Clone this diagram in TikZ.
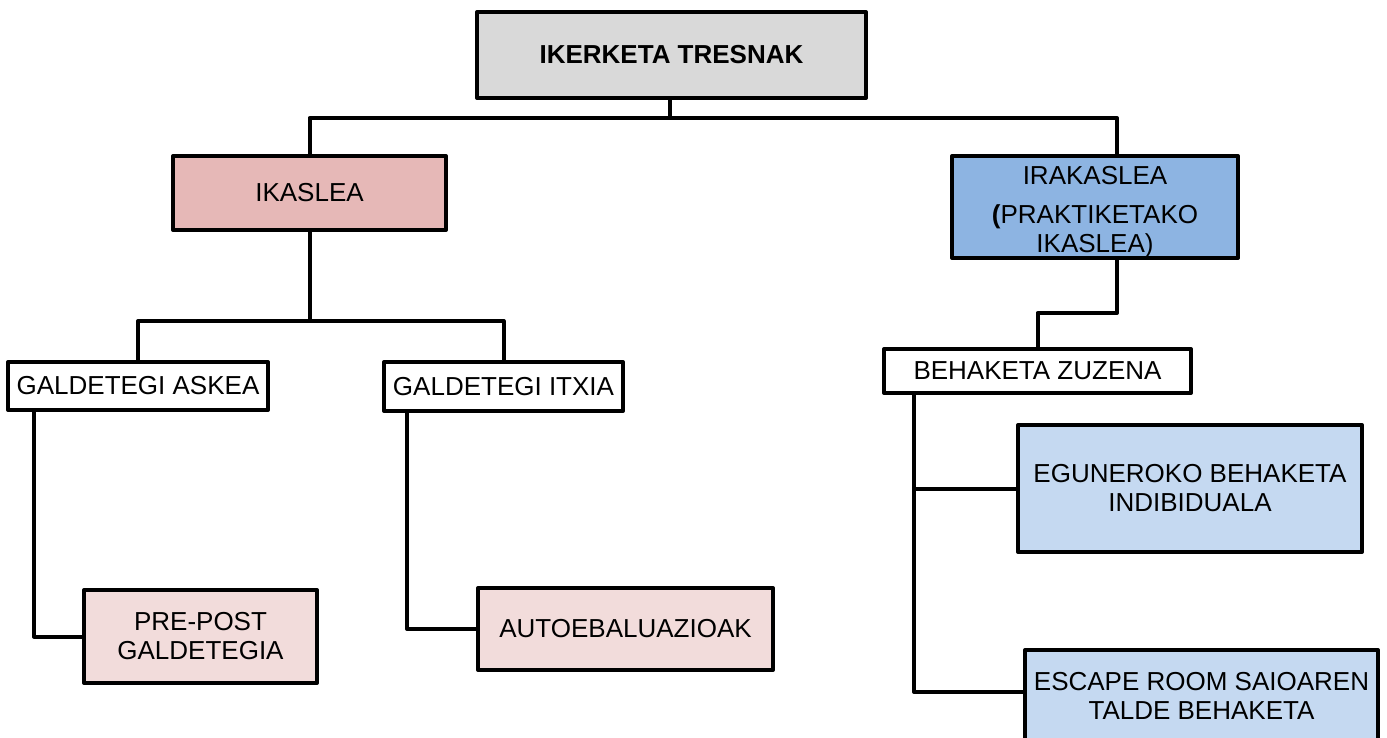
\documentclass[tikz,border=0pt]{standalone}
\usepackage{fontspec}
\setmainfont{Liberation Sans}
\definecolor{cgray}{HTML}{D9D9D9}
\definecolor{cpink}{HTML}{E6B8B7}
\definecolor{clpink}{HTML}{F2DCDB}
\definecolor{cblue}{HTML}{8DB4E2}
\definecolor{clblue}{HTML}{C5D9F1}
\begin{document}
\begin{tikzpicture}[x=1pt,y=-1pt,
  box/.style={draw=black,line width=4pt,line join=round,inner sep=0pt,align=center,
    font=\fontsize{26}{29}\selectfont},
  conn/.style={draw=black,line width=4pt,line join=round}]
\useasboundingbox (0,0) rectangle (1387,738);
\node[box,fill=cgray,minimum width=389pt,minimum height=86pt,font=\fontsize{26}{29}\selectfont\bfseries] (top) at (671.5,55) {IKERKETA TRESNAK};
\node[box,fill=cpink,minimum width=273pt,minimum height=74pt] (ik) at (309.5,193) {IKASLEA};
\node[box,fill=cblue,minimum width=286pt,minimum height=102pt] (ir) at (1095,207) {\rule{0pt}{28pt}IRAKASLEA\\[10pt]\textbf{(}PRAKTIKETAKO\\IKASLEA)};
\node[box,fill=white,minimum width=260pt,minimum height=48pt] (as) at (138,386) {GALDETEGI ASKEA};
\node[box,fill=white,minimum width=239pt,minimum height=49pt] (it) at (503.5,386.5) {GALDETEGI ITXIA};
\node[box,fill=white,minimum width=307pt,minimum height=44pt] (bz) at (1037.5,371) {BEHAKETA ZUZENA};
\node[box,fill=clblue,minimum width=344pt,minimum height=127pt] (eg) at (1190,488.5) {EGUNEROKO BEHAKETA\\INDIBIDUALA};
\node[box,fill=clblue,minimum width=353pt,minimum height=92pt] (es) at (1201.5,696) {ESCAPE ROOM SAIOAREN\\TALDE BEHAKETA};
\node[box,fill=clpink,minimum width=233pt,minimum height=93pt] (pp) at (200.5,636.5) {PRE-POST\\GALDETEGIA};
\node[box,fill=clpink,minimum width=295pt,minimum height=82pt] (au) at (625.5,629) {AUTOEBALUAZIOAK};
% connectors
\coordinate (j1) at (670,118);
\draw[conn] (top.south -| j1) -- (j1);
\draw[conn] (j1) -| (ik.north);
\draw[conn] (j1) -| ([xshift=22pt]ir.north);
\coordinate (j2) at (309.5,321);
\draw[conn] (ik.south) -- (j2);
\draw[conn] (j2) -| (as.north);
\draw[conn] (j2) -| (it.north);
\coordinate (j3) at (1117,313);
\draw[conn] ([xshift=22pt]ir.south) -- (j3) -| (bz.north);
\draw[conn] ([xshift=28pt]as.south west) |- (pp.west);
\draw[conn] ([xshift=25pt]it.south west) |- (au.west);
\draw[conn] ([xshift=32pt]bz.south west) |- ([yshift=4pt]es.west);
\draw[conn] ([xshift=32pt]bz.south west |- eg.west) -- (eg.west);
\end{tikzpicture}
\end{document}
